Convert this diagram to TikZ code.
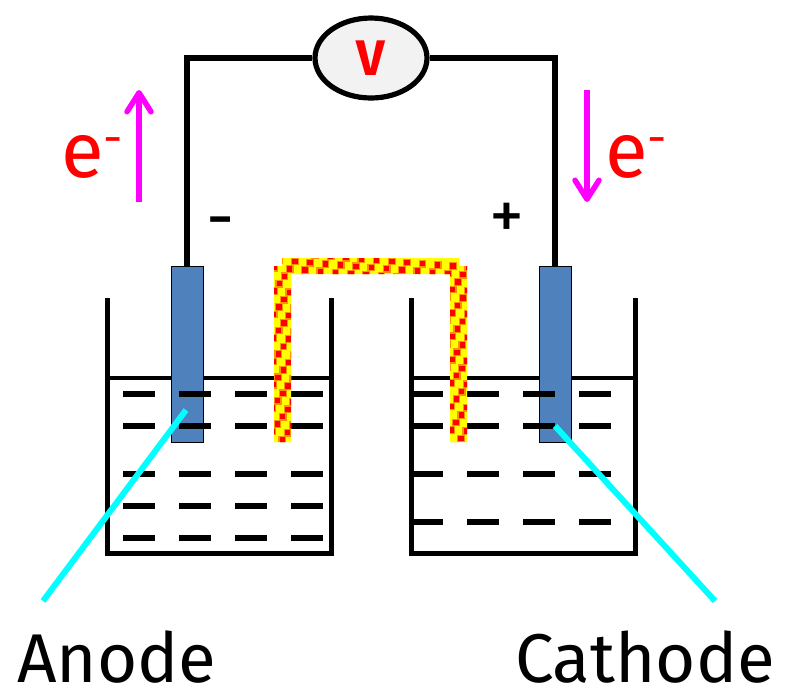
\documentclass[tikz,border=0pt]{standalone}
\usepackage{fontspec}
\setmainfont{Fira Sans}
\usetikzlibrary{arrows.meta,shapes.geometric}
\definecolor{elec}{HTML}{4F81BD}
\definecolor{vmfill}{HTML}{F2F2F2}
\definecolor{pureRed}{HTML}{FF0000}
\definecolor{pureYellow}{HTML}{FFFF00}
\definecolor{pureCyan}{HTML}{00FFFF}
\definecolor{pureMagenta}{HTML}{FF00FF}
\definecolor{bridgeorange}{HTML}{FF9000}
\newcommand{\electronlabel}{e\raisebox{23pt}{\fontsize{48}{48}\selectfont -}}
\tikzset{
  x=1pt,y=-1pt,
  wirepath/.style={line width=5.2pt,black},
  beakerline/.style={line width=5pt,black,line cap=butt,line join=miter},
  fluid/.style={line width=6.5pt,black},
  electrode/.style={draw=black,line width=0.8pt,fill=elec,minimum width=32pt,minimum height=176pt,inner sep=0pt},
  pointer/.style={line width=6pt,pureCyan},
  flow/.style={line width=5.5pt,pureMagenta,-{Straight Barb[length=19pt,width=24pt,round]}},
  lbl/.style={font=\fontsize{69}{69}\selectfont,inner sep=0pt,text=black},
  elabel/.style={font=\fontsize{78}{78}\selectfont,text=pureRed,inner sep=0pt},
  sign/.style={font=\fontsize{70}{70}\selectfont,inner sep=0pt,text=black}
}
\begin{document}
\begin{tikzpicture}
\useasboundingbox (0,0) rectangle (794,689);
% beakers
\draw[beakerline] (107,298) -- (107,553) -- (331,553) -- (331,298);
\draw[beakerline] (411,298) -- (411,553) -- (635,553) -- (635,298);
\draw[line width=4.5pt] (107,378) -- (331,378);
\draw[line width=4.5pt] (411,378) -- (635,378);
% electrodes
\node[electrode] (anode) at (187,354) {};
\node[electrode] (cathode) at (555,354) {};
% liquid dashes
\foreach \y in {394,426,474,506,538}
  \foreach \x in {123,179,235,291}
    \draw[fluid] (\x,\y) -- ++(32,0);
\foreach \y in {394,426,474,522}
  \foreach \x in {411,467,523,579}
    \draw[fluid] (\x,\y) -- ++(32,0);
% salt bridge
\begin{scope}
  \clip (274,266) rectangle (291,442) (282,258) rectangle (459,274) (450,266) rectangle (467,442);
  \fill[pureYellow] (270,255) rectangle (470,445);
  \foreach \i in {-4,...,24}
    \foreach \j in {0,...,26}
      \fill[bridgeorange] ({270+\i*15.3+\j*(-5.2)+30-3.9},{254+\i*1.2+\j*7.4-3.9}) rectangle ++(7.8,7.8);
  \foreach \i in {-4,...,24}
    \foreach \j in {0,...,26}
      \fill[pureRed] ({270+\i*15.3+\j*(-5.2)+30-2.7},{254+\i*1.2+\j*7.4-2.7}) rectangle ++(5.4,5.4);
\end{scope}
% voltmeter and wires
\node[draw=black,line width=5.2pt,fill=vmfill,ellipse,minimum width=112pt,minimum height=80pt,inner sep=0pt,
      font=\bfseries\fontsize{50}{50}\selectfont,text=pureRed] (vm) at (371,58) {\raisebox{-2pt}{V}};
\draw[wirepath] (anode.north) |- (vm.west);
\draw[wirepath] (cathode.north) |- (vm.east);
% pointers
\coordinate (anodetip) at (186,410);
\coordinate (anodeend) at (43,601);
\coordinate (cathodetip) at (555,426);
\coordinate (cathodeend) at (715,601);
\draw[pointer] (anodetip) -- (anodeend);
\draw[pointer] (cathodetip) -- (cathodeend);
% electron flow
\coordinate (upa) at (139,202);
\coordinate (upb) at (139,90);
\coordinate (downa) at (587,90);
\coordinate (downb) at (587,202);
\draw[flow] (upa) -- (upb);
\draw[flow] (downa) -- (downb);
\node[elabel,anchor=base] (eleft) at (92,177) {\electronlabel};
\node[elabel,anchor=base] (eright) at (636,177) {\electronlabel};
% signs
\node[sign] (minus) at (221,229) {-};
\node[sign] (plus) at (507,221) {+};
% labels
\node[lbl,anchor=base] (anodelbl) at (117,682) {Anode};
\node[lbl,anchor=base] (cathodelbl) at (645,682) {Cathode};
\end{tikzpicture}
\end{document}
